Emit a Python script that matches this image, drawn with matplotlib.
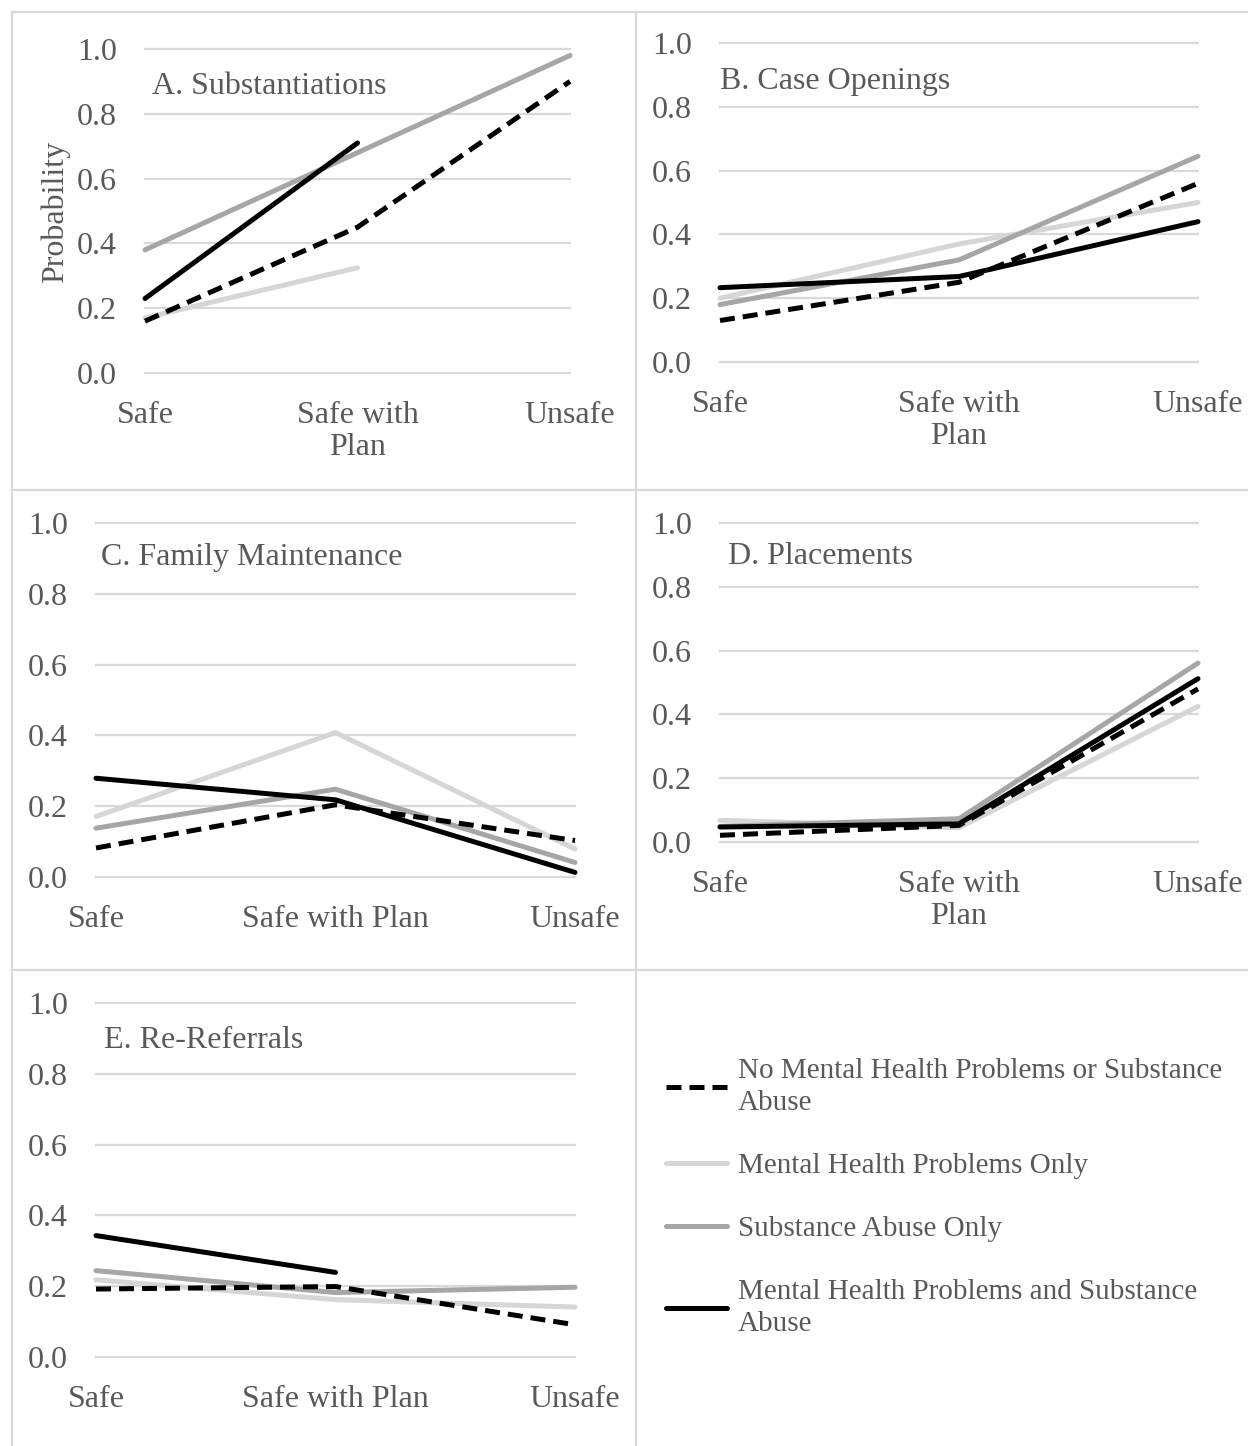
import matplotlib
matplotlib.use("Agg")
import matplotlib.pyplot as plt
from matplotlib.lines import Line2D
import numpy as np

# categories on the x axis
categories = ["Safe", "Safe with\nPlan", "Unsafe"]
categories_oneline = ["Safe", "Safe with Plan", "Unsafe"]

# series names (legend order)
series_names = [
    "No Mental Health Problems or Substance\nAbuse",
    "Mental Health Problems Only",
    "Substance Abuse Only",
    "Mental Health Problems and Substance\nAbuse",
]

# predicted probabilities per outcome: [none, mental health only, substance only, both]
nan = np.nan
substantiations = [
    [0.16, 0.45, 0.90],
    [0.17, 0.325, nan],
    [0.38, 0.68, 0.98],
    [0.23, 0.71, nan],
]
case_openings = [
    [0.13, 0.25, 0.56],
    [0.20, 0.37, 0.50],
    [0.18, 0.32, 0.645],
    [0.233, 0.268, 0.44],
]
family_maintenance = [
    [0.082, 0.204, 0.103],
    [0.171, 0.408, 0.079],
    [0.138, 0.248, 0.041],
    [0.279, 0.218, 0.013],
]
placements = [
    [0.021, 0.052, 0.48],
    [0.068, 0.045, 0.425],
    [0.049, 0.073, 0.561],
    [0.047, 0.057, 0.512],
]
re_referrals = [
    [0.192, 0.199, 0.091],
    [0.218, 0.162, 0.141],
    [0.244, 0.182, 0.197],
    [0.343, 0.239, nan],
]

# ---- styling -------------------------------------------------------------
W, H = 1248, 1446
TEXT_COLOR = "#595959"
GRID_COLOR = "#D9D9D9"
FONT_SIZE = 23
LEGEND_FONT_SIZE = 21
LW = 3.6
styles = [
    dict(color="black", linestyle=(0, (3, 1.6)), zorder=6, dash_capstyle="butt"),
    dict(color="#D6D6D6", linestyle="-", zorder=3, solid_capstyle="round"),
    dict(color="#A6A6A6", linestyle="-", zorder=4, solid_capstyle="round"),
    dict(color="black", linestyle="-", zorder=5, solid_capstyle="round"),
]

plt.rcParams["font.family"] = ["Liberation Serif", "DejaVu Serif"]
plt.rcParams["font.size"] = FONT_SIZE
plt.rcParams["text.color"] = TEXT_COLOR

fig = plt.figure(figsize=(W / 100, H / 100), dpi=100)
fig.patch.set_facecolor("white")


def px_axes(left, right, top, bottom):
    # axes rectangle given in pixel edges of the figure
    return fig.add_axes([left / W, 1 - bottom / H, (right - left) / W, (bottom - top) / H])


def panel(ax, data, title, title_xy, xlabels):
    x = np.arange(len(xlabels))
    handles = []
    for vals, st in zip(data, styles):
        h, = ax.plot(x, vals, lw=LW, clip_on=False, **st)
        handles.append(h)
    ax.set_xlim(0, 2)
    ax.set_ylim(0, 1)
    ax.set_xticks(x)
    ax.set_xticklabels(xlabels, color=TEXT_COLOR, linespacing=1.15)
    ax.set_yticks(np.arange(0, 1.01, 0.2))
    ax.set_yticklabels([f"{v:.1f}" for v in np.arange(0, 1.01, 0.2)], color=TEXT_COLOR)
    ax.tick_params(axis="both", length=0)
    ax.tick_params(axis="y", pad=20)
    ax.tick_params(axis="x", pad=20)
    ax.grid(axis="y", color=GRID_COLOR, lw=1.6)
    ax.set_axisbelow(True)
    for gl in ax.get_ygridlines():
        gl.set_clip_on(False)
    for s in ax.spines.values():
        s.set_visible(False)
    fig.text(title_xy[0] / W, 1 - title_xy[1] / H, title, ha="left", va="center",
             fontsize=FONT_SIZE, color=TEXT_COLOR)
    return handles


axA = px_axes(145, 570, 49, 373)
handles = panel(axA, substantiations, "A. Substantiations", (152, 86), categories)
fig.text(55 / W, 1 - 212 / H, "Probability", rotation=90, ha="center", va="center",
         fontsize=FONT_SIZE, color=TEXT_COLOR)

axB = px_axes(720, 1198, 43, 362)
panel(axB, case_openings, "B. Case Openings", (720, 81), categories)

axC = px_axes(96, 575, 523, 877)
panel(axC, family_maintenance, "C. Family Maintenance", (101, 557), categories_oneline)

axD = px_axes(720, 1198, 523, 842)
panel(axD, placements, "D. Placements", (728, 557), categories)

axE = px_axes(96, 575, 1003, 1357)
panel(axE, re_referrals, "E. Re-Referrals", (104, 1041), categories_oneline)

# legend in the empty bottom-right cell
axL = px_axes(650, 1240, 980, 1440)
axL.axis("off")
leg = axL.legend(handles, series_names, loc="upper left",
                 bbox_to_anchor=(666 / W, 1 - 1058 / H), bbox_transform=fig.transFigure,
                 frameon=False, fontsize=LEGEND_FONT_SIZE, handlelength=2.1,
                 handletextpad=0.36, labelspacing=1.25, borderpad=0, borderaxespad=0)
for t in leg.get_texts():
    t.set_linespacing(1.32)

# light cell borders
border = dict(color=GRID_COLOR, lw=1.6, transform=fig.transFigure)
for x0, y0, x1, y1 in [(12, 12, W, 12), (12, 490, W, 490), (12, 970, W, 970),
                       (12, 12, 12, H), (636, 12, 636, H)]:
    fig.add_artist(Line2D([x0 / W, x1 / W], [1 - y0 / H, 1 - y1 / H], **border))

fig.savefig("out.png", dpi=100, facecolor="white")
